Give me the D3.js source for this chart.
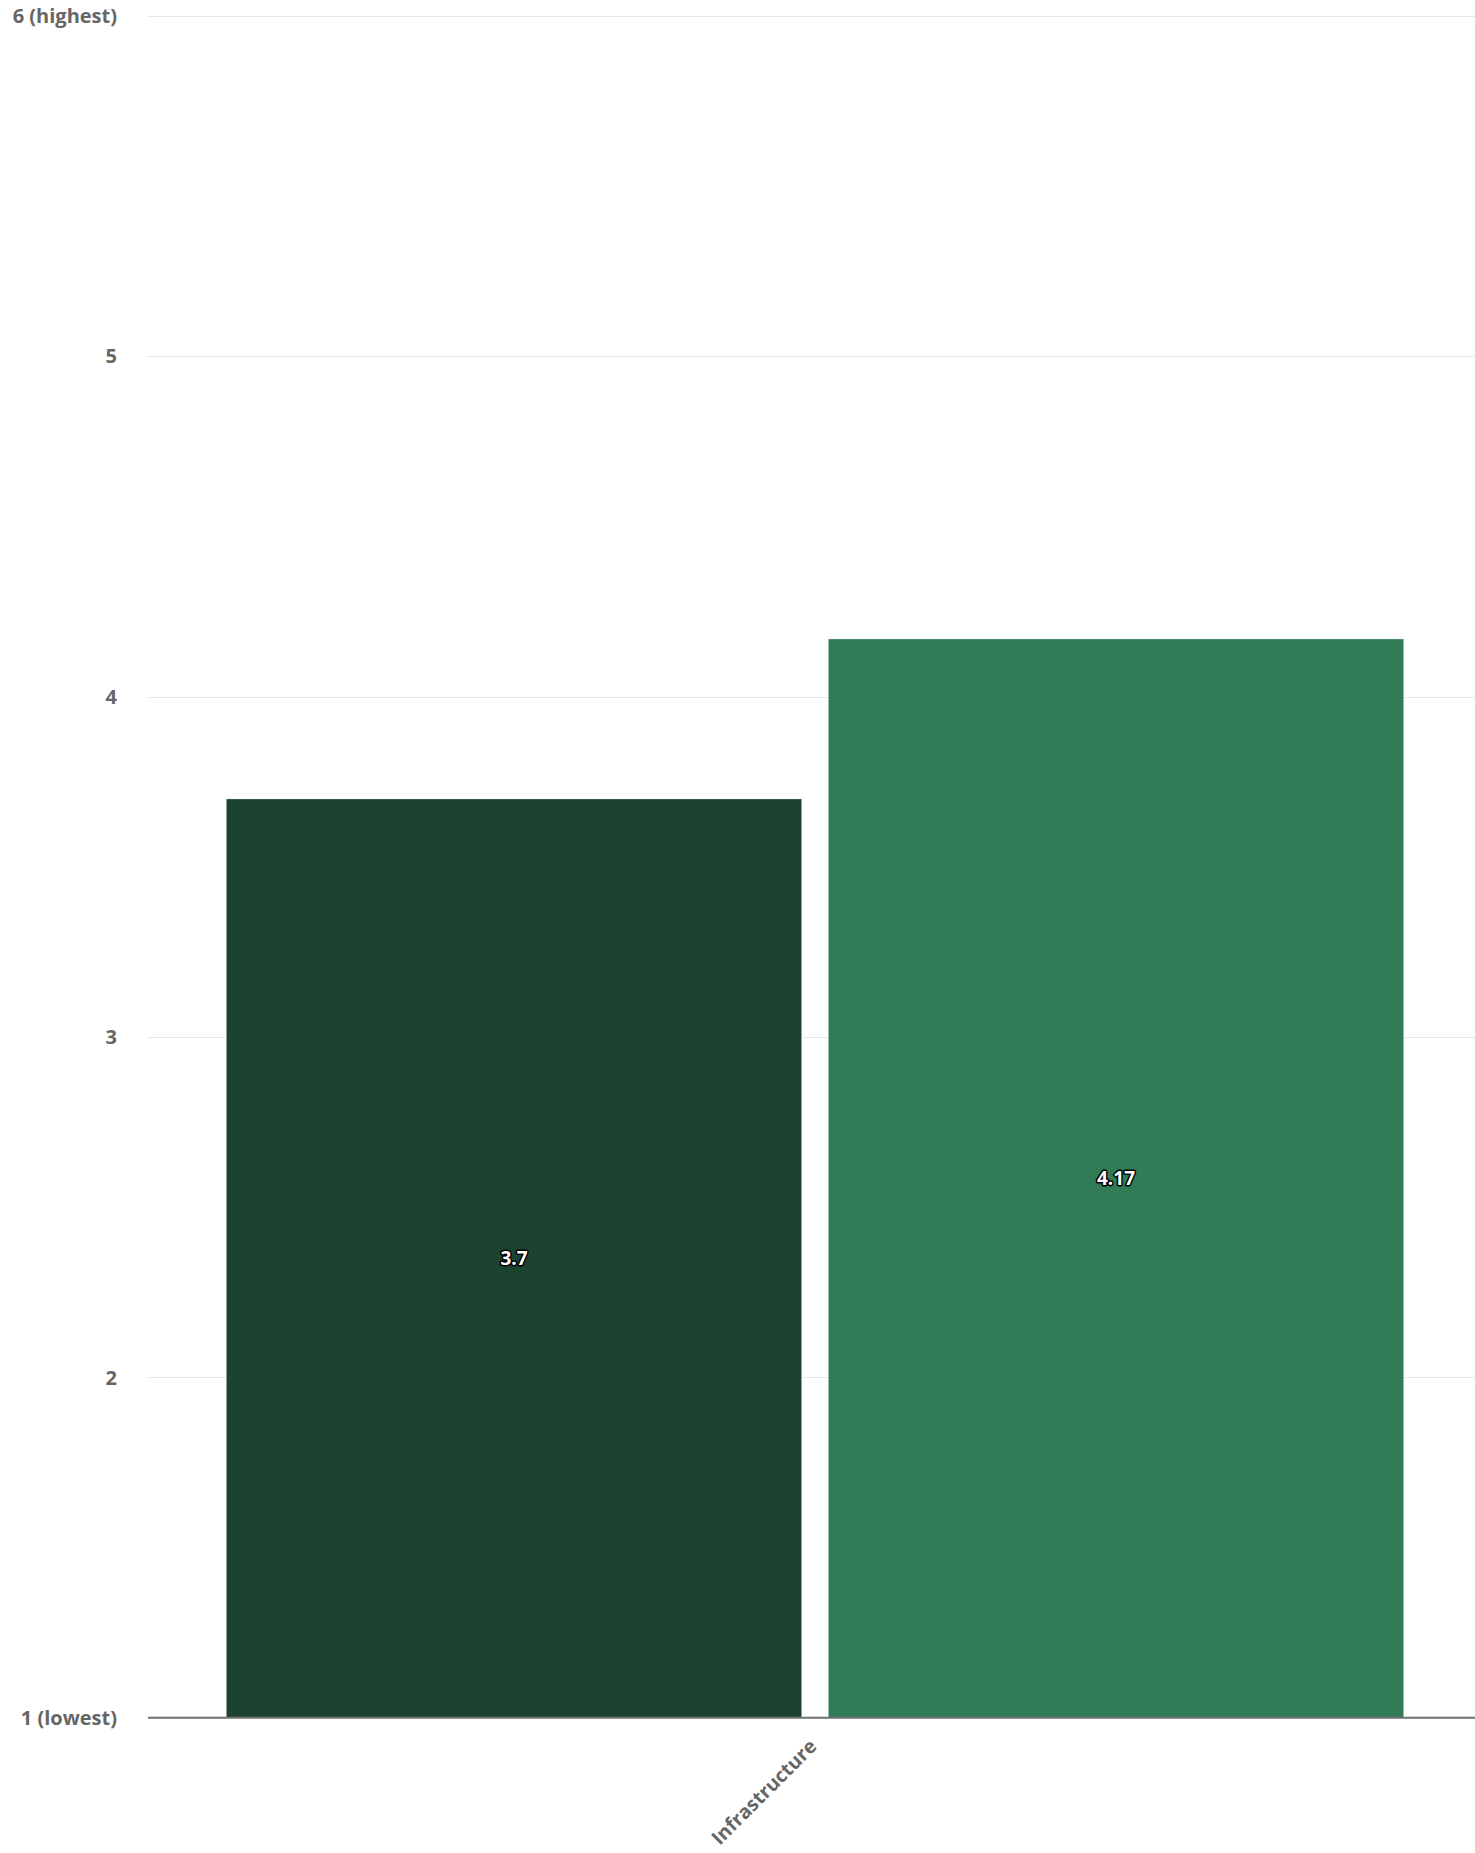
<!DOCTYPE html>
<html>
<head>
<meta charset="utf-8">
<script src="https://cdn.jsdelivr.net/npm/d3@7"></script>
<style>
  html, body { margin: 0; padding: 0; background: #ffffff; }
  svg { display: block; font-family: "Open Sans", sans-serif; }
</style>
</head>
<body>
<svg id="chart" width="1475" height="1853"></svg>
<script>
const categories = ["Infrastructure"];
const seriesNames = ["Series 1", "Series 2"];
const seriesValues = [[3.7], [4.17]];
const seriesColors = ["#1c4330", "#317b57"];
const tickValues = [1, 2, 3, 4, 5, 6];
const tickLabels = ["1 (lowest)", "2", "3", "4", "5", "6 (highest)"];

const svg = d3.select("#chart");
const plotLeft = 148, plotRight = 1475, plotTop = 15.7, plotBottom = 1717.7;

const y = d3.scaleLinear().domain([1, 6]).range([plotBottom, plotTop]);
const x0 = d3.scaleBand().domain(categories).range([plotLeft, 1482]).paddingOuter(0.0662).paddingInner(0);
const x1 = d3.scaleBand().domain(seriesNames).range([0, x0.bandwidth()]).paddingInner(0.0432).paddingOuter(0);

// gridlines
svg.append("g").selectAll("line").data(tickValues.filter(v => v !== 1)).join("line")
  .attr("x1", plotLeft).attr("x2", plotRight)
  .attr("y1", d => Math.round(y(d)) + 0.5).attr("y2", d => Math.round(y(d)) + 0.5)
  .attr("stroke", "#e6e6e6").attr("stroke-width", 1);

// y axis labels
const yAxis = d3.axisLeft(y).tickValues(tickValues).tickSize(0).tickPadding(0)
  .tickFormat((d) => tickLabels[tickValues.indexOf(d)]);
const yg = svg.append("g").attr("transform", `translate(117,0)`).call(yAxis);
yg.select(".domain").remove();
yg.selectAll("text").attr("fill", "#666666").attr("font-size", "20px").attr("font-weight", "bold")
  .attr("font-family", "'Open Sans', sans-serif").attr("dy", "0.34em");

// bars
const groups = svg.append("g").selectAll("g").data(categories).join("g")
  .attr("transform", d => `translate(${x0(d)},0)`);
seriesNames.forEach((s, si) => {
  groups.append("rect")
    .attr("x", x1(s))
    .attr("y", (d, ci) => y(seriesValues[si][ci]))
    .attr("width", x1.bandwidth())
    .attr("height", (d, ci) => plotBottom - y(seriesValues[si][ci]))
    .attr("fill", seriesColors[si])
    .attr("stroke", "#ffffff").attr("stroke-width", 1);
});
// labels
seriesNames.forEach((s, si) => {
  groups.append("text")
    .attr("x", x1(s) + x1.bandwidth() / 2)
    .attr("y", (d, ci) => (y(seriesValues[si][ci]) + plotBottom) / 2)
    .attr("dy", "0.35em")
    .attr("text-anchor", "middle")
    .attr("font-size", "19px").attr("font-weight", "bold")
    .attr("fill", "#ffffff").attr("stroke", "#000000").attr("stroke-width", 3)
    .attr("stroke-linejoin", "round").attr("paint-order", "stroke")
    .text((d, ci) => seriesValues[si][ci]);
});

// x axis baseline
const xAxis = d3.axisBottom(x0).tickSize(0).tickPadding(0);
const xg = svg.append("g").attr("transform", `translate(0,${plotBottom})`).call(xAxis);
xg.select(".domain").attr("d", `M${plotLeft},0H${plotRight}`).attr("stroke", "#707070").attr("stroke-width", 2);
xg.selectAll(".tick text")
  .attr("fill", "#666666").attr("font-size", "19.5px").attr("font-weight", "bold")
  .attr("font-family", "'Open Sans', sans-serif")
  .attr("text-anchor", "end").attr("dy", null).attr("y", 0)
  .attr("transform", "translate(3,30) rotate(-45)");
</script>
</body>
</html>
